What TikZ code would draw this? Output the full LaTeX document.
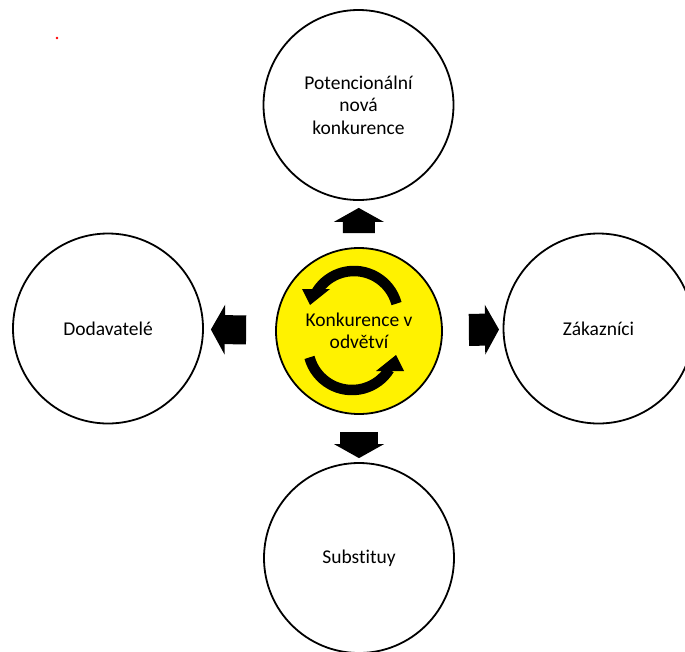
\documentclass[tikz,border=0pt]{standalone}
\usepackage{fontspec}
\setmainfont{Carlito}[Ligatures=NoCommon]
\usepackage{xcolor}
\usepackage{tikz}
\usetikzlibrary{arrows.meta}

\begin{document}
\begin{tikzpicture}[x=1pt,y=-1pt,
    force/.style={circle,draw=black,line width=1.8pt,inner sep=0pt,minimum size=190pt,
      align=center,font=\fontsize{19.5}{22.5}\selectfont},
    blockarrow/.style={line width=32pt,-{Triangle[width=50pt,length=14pt,line width=0pt]}},
    turnarrow/.style={line width=10.5pt}]
    \useasboundingbox (0,0) rectangle (685,651);
    % Red dot
    \fill[red] (57,38) circle (1.3);
    % Outer forces
    \node[force] (pot) at (358.5,105) {Potencionální\\nová\\konkurence};
    \node[force] (dod) at (108,328.5) {Dodavatelé};
    \node[force] (zak) at (598.5,328.5) {Zákazníci};
    \node[force] (sub) at (359,558) {Substituy};
    % Rivalry in the middle
    \node[force,fill=yellow,minimum size=166pt] (kon) at (359,331) {Konkurence v\\odvětví};
    % Turning arrows (arc + head)
    \draw[turnarrow] (396.5,303.6) arc[start angle=-15,end angle=-148,radius=44];
    \fill (302,289) -- (330,289) -- (310,305) -- cycle;
    \draw[turnarrow] (309.5,357.4) arc[start angle=165,end angle=32,radius=44];
    \fill (404,371) -- (376,371) -- (396,355) -- cycle;
    % Block arrows
    \draw[blockarrow,shorten <=14pt,shorten >=7pt] (kon) -- (pot);
    \draw[blockarrow,line width=29pt,shorten <=29pt,shorten >=7pt] (kon) -- (dod);
    \draw[blockarrow,shorten <=26pt,shorten >=3.6pt] (kon) -- (zak);
    \draw[blockarrow,line width=38pt,shorten <=17pt,shorten >=4pt] (kon) -- (sub);
\end{tikzpicture}
\end{document}
